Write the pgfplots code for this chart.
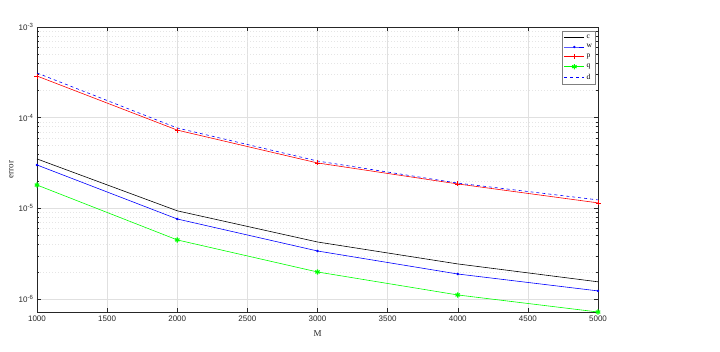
\documentclass[border=0pt]{standalone}
\usepackage{fontspec}
\setmainfont{Liberation Serif}
\setsansfont{Liberation Sans}
\usepackage{pgfplots}
\pgfplotsset{compat=1.18}
\definecolor{axgray}{RGB}{38,38,38}
\definecolor{mgreen}{RGB}{0,255,0}

\begin{document}
\begin{tikzpicture}
  \useasboundingbox (-37pt,-39pt) rectangle (683pt,312pt);
  \begin{axis}[
    at={(0,0)}, anchor=south west,
    scale only axis, width=561pt, height=285pt,
    ymode=log,
    xmin=1000, xmax=5000, ymin=7.2e-7, ymax=1e-3,
    xtick={1000,1500,...,5000},
    ytick={1e-6,1e-5,1e-4,1e-3},
    yticklabels={10\textsuperscript{-6},10\textsuperscript{-5},10\textsuperscript{-4},10\textsuperscript{-3}},
    /pgf/number format/1000 sep={},
    /pgf/number format/assume math mode=true,
    ticklabel style={font=\sffamily\fontsize{8}{9}\selectfont, text=axgray},
    xlabel={M}, ylabel={error},
    label style={font=\fontsize{9}{10}\selectfont, text=axgray},
    xlabel style={at={(axis description cs:0.5,-0.075)}, anchor=center},
    ylabel style={at={(axis description cs:-0.046,0.5)}, anchor=center},
    axis line style={draw=axgray, line width=0.5pt},
    tick align=inside, tick style={draw=axgray, line width=0.4pt},
    major tick length=4pt, minor tick length=2pt,
    grid=both,
    major grid style={draw=black!12, line width=0.4pt},
    minor grid style={draw=black!10, dash pattern=on 1pt off 2pt, line width=0.4pt},
    legend cell align=left,
    legend style={at={(0.996,0.986)}, anchor=north east, draw=black!50,
      font=\fontsize{7.5}{8}\selectfont, inner sep=1.5pt, row sep=0.8pt},
    legend image code/.code={\draw[mark repeat=2,mark phase=2,#1] plot coordinates {(0pt,0pt) (10pt,0pt) (20pt,0pt)};},
  ]
    \addplot[black, line width=0.6pt] coordinates {
      (1000,3.51e-5) (2000,9.4e-6) (3000,4.26e-6) (4000,2.44e-6) (5000,1.55e-6)};
    \addlegendentry{c}
    \addplot[blue, line width=0.6pt, mark=*, mark size=0.9pt] coordinates {
      (1000,3.01e-5) (2000,7.64e-6) (3000,3.39e-6) (4000,1.89e-6) (5000,1.23e-6)};
    \addlegendentry{w}
    \addplot[red, line width=0.6pt, mark=+, mark size=2.5pt] coordinates {
      (1000,2.88e-4) (2000,7.3e-5) (3000,3.17e-5) (4000,1.86e-5) (5000,1.15e-5)};
    \addlegendentry{p}
    \addplot[mgreen, line width=0.6pt, mark=asterisk, mark size=2.6pt, mark options={line width=1.1pt}] coordinates {
      (1000,1.81e-5) (2000,4.49e-6) (3000,1.99e-6) (4000,1.11e-6) (5000,7.2e-7)};
    \addlegendentry{q}
    \addplot[blue, line width=0.6pt, dashed] coordinates {
      (1000,3.11e-4) (2000,7.7e-5) (3000,3.33e-5) (4000,1.9e-5) (5000,1.24e-5)};
    \addlegendentry{d}
  \end{axis}
\end{tikzpicture}
\end{document}
